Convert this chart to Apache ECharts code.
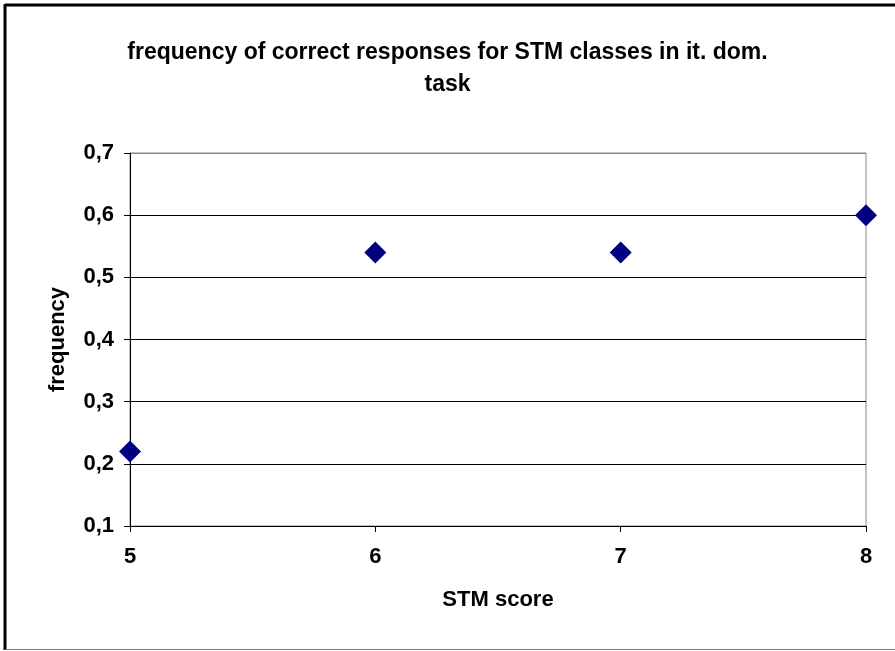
<!DOCTYPE html>
<html>
<head>
<meta charset="utf-8">
<script src="https://cdn.jsdelivr.net/npm/echarts@6/dist/echarts.min.js"></script>
<style>
  html, body { margin: 0; padding: 0; background: #fff; }
  #chart { width: 895px; height: 651px; }
</style>
</head>
<body>
<div id="chart"></div>
<script>
// STM score classes and observed frequency of correct responses
var stmScores = [5, 6, 7, 8];
var frequencies = [0.22, 0.54, 0.54, 0.6];

var yTicks = { min: 0.1, max: 0.7, step: 0.1 };
var xTicks = { min: 5, max: 8, step: 1 };

var font = 'Liberation Sans, Arial, sans-serif';
var boldText = { fontFamily: font, fontSize: 22, fontWeight: 'bold', color: '#000' };

var chart = echarts.init(document.getElementById('chart'));

chart.setOption({
    animation: false,
    title: {
        text: 'frequency of correct responses for STM classes in it. dom.\ntask',
        left: 'center',
        top: 32,
        textStyle: {
            fontFamily: font,
            fontSize: 23,
            fontWeight: 'bold',
            color: '#000',
            lineHeight: 32
        }
    },
    grid: {
        left: 130,
        right: 29,
        top: 153,
        bottom: 125,
        show: true,
        borderColor: '#888',
        borderWidth: 1
    },
    xAxis: {
        type: 'value',
        min: xTicks.min,
        max: xTicks.max,
        interval: xTicks.step,
        name: 'STM score',
        nameLocation: 'middle',
        nameGap: 63,
        nameTextStyle: boldText,
        axisLine: { lineStyle: { color: '#000', width: 1 } },
        axisTick: { show: true, length: 6, lineStyle: { color: '#000' } },
        axisLabel: Object.assign({ margin: 20 }, boldText),
        splitLine: { show: false }
    },
    yAxis: {
        type: 'value',
        min: yTicks.min,
        max: yTicks.max,
        interval: yTicks.step,
        name: 'frequency',
        nameLocation: 'middle',
        nameGap: 61,
        nameTextStyle: boldText,
        axisLine: { show: true, lineStyle: { color: '#000', width: 1 } },
        axisTick: { show: true, length: 6, lineStyle: { color: '#000' } },
        axisLabel: Object.assign({
            margin: 16,
            formatter: function (v) { return v.toFixed(1).replace('.', ','); }
        }, boldText),
        splitLine: {
            show: true,
            lineStyle: { color: ['#000', '#000', '#000', '#000', '#000', '#000', '#888'], width: 1 }
        }
    },
    series: [{
        type: 'scatter',
        symbol: 'diamond',
        symbolSize: [22, 22],
        itemStyle: { color: '#000080', opacity: 1 },
        data: stmScores.map(function (s, i) { return [s, frequencies[i]]; })
    }],
    graphic: [
        { type: 'line', shape: { x1: 5, y1: 5, x2: 895, y2: 5 }, style: { stroke: '#000', lineWidth: 3 } },
        { type: 'line', shape: { x1: 5, y1: 4, x2: 5, y2: 650 }, style: { stroke: '#000', lineWidth: 3 } },
        { type: 'line', shape: { x1: 5, y1: 649.5, x2: 895, y2: 649.5 }, style: { stroke: '#777', lineWidth: 1 } }
    ]
});
</script>
</body>
</html>
